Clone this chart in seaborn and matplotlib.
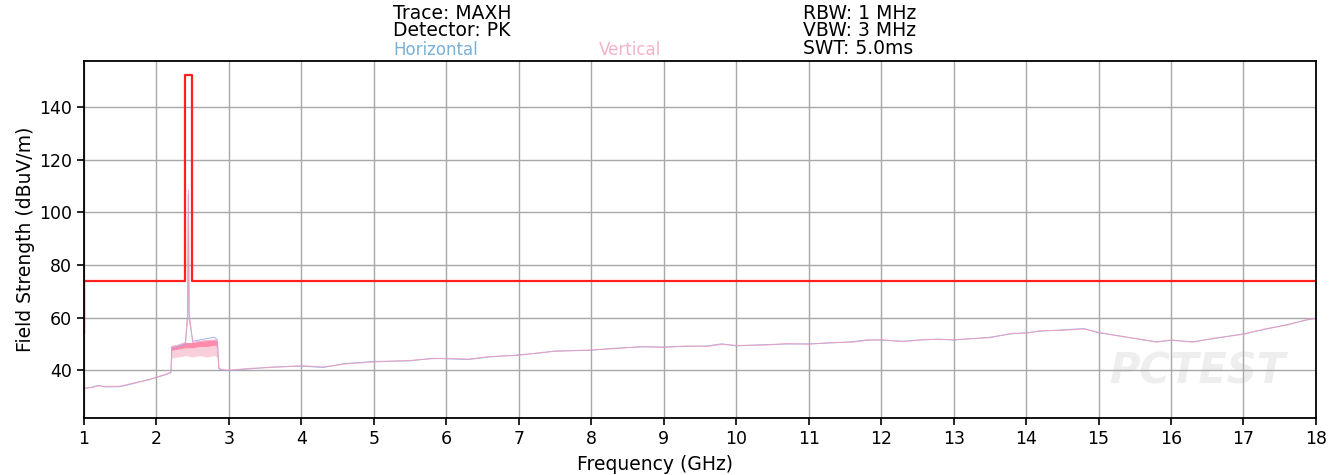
import numpy as np
import pandas as pd
import matplotlib
matplotlib.use("Agg")
import matplotlib.pyplot as plt
import seaborn as sns

# === DATA ===
freq_ghz = [1.0, 1.1, 1.2, 1.3, 1.5, 1.7, 1.9, 2.0, 2.1, 2.2,
            2.21, 2.3, 2.4, 2.43, 2.44, 2.45, 2.5, 2.6, 2.7, 2.8, 2.84, 2.86,
            2.9, 3.0, 3.3, 3.6, 4.0, 4.3, 4.6, 5.0, 5.5, 5.8, 6.0, 6.3, 6.6,
            7.0, 7.3, 7.5, 8.0, 8.3, 8.7, 9.0, 9.3, 9.6, 9.8, 10.0, 10.4,
            10.7, 11.0, 11.3, 11.6, 11.8, 12.0, 12.3, 12.6, 12.8, 13.0, 13.5,
            13.8, 14.0, 14.2, 14.5, 14.8, 15.0, 15.3, 15.6, 15.8, 16.0, 16.3,
            16.6, 17.0, 17.3, 17.6, 17.9, 18.0]
horizontal = [33.0, 33.5, 34.2, 33.6, 33.7, 35.0, 36.5, 37.2, 38.0, 39.0,
              48.0, 49.0, 50.0, 60.0, 107.0, 60.0, 51.0, 51.5, 52.0, 52.5, 51.5, 40.5,
              40.0, 39.8, 40.5, 41.2, 41.5, 41.0, 42.5, 43.3, 43.5, 44.5, 44.3, 44.0, 45.0,
              45.8, 46.5, 47.3, 47.5, 48.3, 48.8, 48.8, 49.0, 49.2, 50.0, 49.2, 49.7,
              49.9, 50.0, 50.3, 50.8, 51.5, 51.4, 51.0, 51.5, 51.8, 51.4, 52.5,
              53.8, 54.2, 54.8, 55.3, 55.8, 54.2, 53.0, 51.5, 50.8, 51.3, 50.8,
              52.0, 53.8, 55.5, 57.3, 59.2, 59.7]
vertical = [33.2, 33.3, 34.0, 33.8, 33.9, 35.2, 36.3, 37.4, 38.2, 39.2,
            49.0, 49.5, 50.5, 62.0, 108.5, 62.0, 50.5, 51.0, 51.2, 51.5, 51.0, 40.8,
            40.2, 40.0, 40.7, 41.0, 41.7, 41.2, 42.3, 43.1, 43.7, 44.3, 44.5, 44.2, 45.2,
            45.6, 46.7, 47.1, 47.7, 48.1, 49.0, 48.6, 49.2, 49.0, 49.8, 49.4, 49.5,
            50.1, 49.8, 50.5, 50.6, 51.3, 51.6, 50.8, 51.7, 51.6, 51.6, 52.3,
            54.0, 54.0, 55.0, 55.1, 55.6, 54.4, 52.8, 51.7, 50.6, 51.5, 50.6,
            52.2, 53.6, 55.7, 57.1, 59.4, 59.5]

# spread of the max-hold sweeps inside the 2.4 GHz band
band_freq = [2.2, 2.3, 2.4, 2.5, 2.6, 2.7, 2.8, 2.84]
band_low = [44.5, 45.0, 45.5, 45.0, 45.5, 45.0, 45.5, 45.0]
band_mid = [47.5, 48.0, 48.5, 48.5, 49.0, 49.0, 49.5, 49.0]
band_high = [49.0, 49.5, 50.5, 50.5, 51.0, 51.2, 51.5, 51.0]

# limit line
limit_freq = [1.0, 1.0, 2.4, 2.4, 2.4835, 2.4835, 18.0]
limit_level = [54, 74, 74, 152, 152, 74, 74]

df = pd.DataFrame({"freq": freq_ghz * 2,
                   "level": horizontal + vertical,
                   "pol": ["Horizontal"] * len(freq_ghz) + ["Vertical"] * len(freq_ghz)})

# === PLOT ===
sns.set_style("ticks", {"text.color": "black", "axes.labelcolor": "black",
                        "xtick.color": "black", "ytick.color": "black"})
plt.rcParams['font.family'] = ['DejaVu Sans']

fig = plt.figure(figsize=(13.42, 4.75), dpi=100)
ax = fig.add_axes([0.0626, 0.12, 0.918, 0.7516])

ax.fill_between(band_freq, band_low, band_high, color="#f9c4d4", alpha=0.8, lw=0)
ax.fill_between(band_freq, band_mid, band_high, color="#ff7fa3", alpha=0.85, lw=0)
sns.lineplot(data=df, x="freq", y="level", hue="pol", estimator=None, sort=False,
             palette={"Horizontal": "#93a6e6", "Vertical": "#f29ab9"},
             lw=0.7, alpha=0.85, legend=False, ax=ax)
ax.plot(limit_freq, limit_level, color="#ff2020", lw=1.6)

# faint watermark
ax.text(0.975, 0.13, "PCTEST", transform=ax.transAxes, ha="right", va="center",
        fontsize=30, fontweight="bold", fontstyle="italic", color="#eeeeee", zorder=0)

ax.set_xlim(1, 18)
ax.set_ylim(21.8, 157.5)
ax.set_xticks(range(1, 19))
ax.set_yticks([40, 60, 80, 100, 120, 140])
ax.grid(True, color="#a8a8a8", lw=1.0)
ax.set_axisbelow(True)
ax.tick_params(labelsize=12.5, length=5, width=1.2, color="black", labelcolor="black")
for s in ax.spines.values():
    s.set_color("black")
    s.set_linewidth(1.3)
ax.set_xlabel("Frequency (GHz)", fontsize=13.5, color="black")
ax.set_ylabel("Field Strength (dBuV/m)", fontsize=13.5, labelpad=3, color="black")
ax.xaxis.set_label_coords(0.4635, -0.105)

# header block
fig.text(0.293, 0.972, "Trace: MAXH", fontsize=13.5, va="center", color="black")
fig.text(0.293, 0.936, "Detector: PK", fontsize=13.5, va="center", color="black")
fig.text(0.293, 0.895, "Horizontal", fontsize=12, va="center", color="#79b0d8")
fig.text(0.446, 0.895, "Vertical", fontsize=12, va="center", color="#f3b3c6")
fig.text(0.598, 0.972, "RBW: 1 MHz", fontsize=13.5, va="center", color="black")
fig.text(0.598, 0.936, "VBW: 3 MHz", fontsize=13.5, va="center", color="black")
fig.text(0.598, 0.897, "SWT: 5.0ms", fontsize=13.5, va="center", color="black")

fig.savefig("out.png", dpi=100)
